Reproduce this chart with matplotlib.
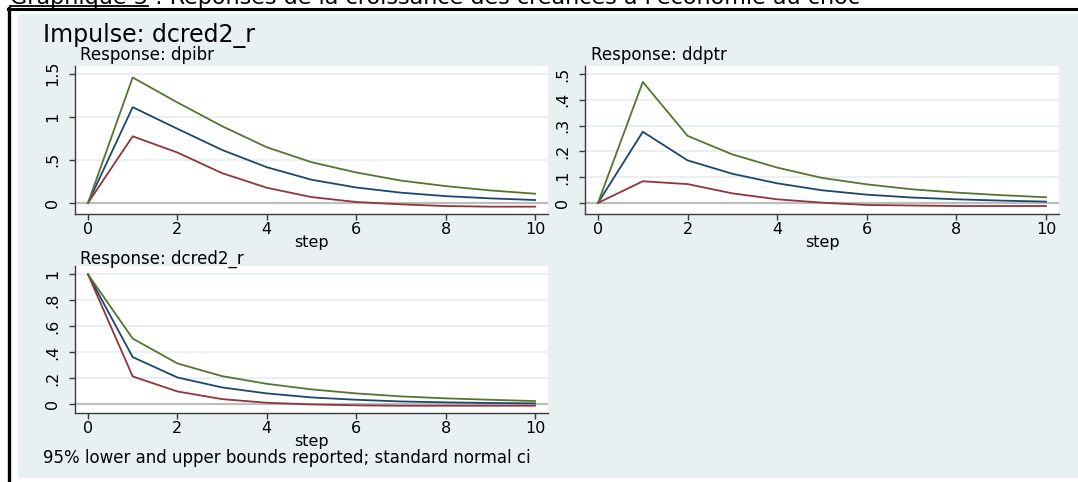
import matplotlib.pyplot as plt
from matplotlib.patches import Rectangle
from matplotlib.lines import Line2D

plt.rcParams['font.family'] = 'DejaVu Sans'

steps = list(range(11))
x_ticks = [0, 2, 4, 6, 8, 10]

# Response: dpibr
dpibr_irf = [0, 1.11, 0.86, 0.615, 0.415, 0.27, 0.18, 0.12, 0.08, 0.054, 0.035]
dpibr_upper = [0, 1.454, 1.165, 0.89, 0.646, 0.473, 0.354, 0.26, 0.196, 0.146, 0.108]
dpibr_lower = [0, 0.773, 0.585, 0.346, 0.177, 0.069, 0.012, -0.015, -0.035, -0.042, -0.042]
dpibr_yticks = [0, 0.5, 1, 1.5]
dpibr_ylabels = ["0", ".5", "1", "1.5"]

# Response: ddptr
ddptr_irf = [0, 0.276, 0.165, 0.113, 0.076, 0.049, 0.032, 0.021, 0.014, 0.009, 0.005]
ddptr_upper = [0, 0.469, 0.26, 0.188, 0.137, 0.097, 0.072, 0.053, 0.04, 0.03, 0.022]
ddptr_lower = [0, 0.084, 0.073, 0.037, 0.014, 0.001, -0.008, -0.01, -0.012, -0.012, -0.012]
ddptr_yticks = [0, 0.1, 0.2, 0.3, 0.4, 0.5]
ddptr_ylabels = ["0", ".1", ".2", ".3", ".4", ".5"]

# Response: dcred2_r
dcred_irf = [1, 0.362, 0.205, 0.128, 0.082, 0.051, 0.033, 0.02, 0.013, 0.008, 0.005]
dcred_upper = [1, 0.505, 0.313, 0.215, 0.156, 0.113, 0.082, 0.059, 0.044, 0.033, 0.023]
dcred_lower = [1, 0.213, 0.097, 0.038, 0.01, -0.003, -0.01, -0.013, -0.013, -0.013, -0.013]
dcred_yticks = [0, 0.2, 0.4, 0.6, 0.8, 1]
dcred_ylabels = ["0", ".2", ".4", ".6", ".8", "1"]

navy = '#1a476f'
maroon = '#90353b'
green = '#55752f'
axcol = '#3a3a3a'

W, H = 1078, 482
fig = plt.figure(figsize=(W / 100, H / 100), dpi=100)


def box(x0, y0, x1, y1):
    # pixel box (top-left origin) -> figure fraction
    return [x0 / W, 1 - y1 / H, (x1 - x0) / W, (y1 - y0) / H]


# graph region background + page frame
fig.patches.append(Rectangle((18 / W, 1 - 478 / H), (W - 18) / W, (478 - 14) / H,
                             transform=fig.transFigure, facecolor='#e8f0f2',
                             edgecolor='none', zorder=-5))
fig.add_artist(Line2D([8 / W, 1], [1 - 9.3 / H] * 2, color='black', lw=2.2))
fig.add_artist(Line2D([9 / W] * 2, [0, 1 - 8 / H], color='black', lw=2.4))

# caption (cut at the top of the page)
cap = fig.text(10 / W, 1 - 4 / H, "Graphique 3", fontsize=16, va='baseline', ha='left')
renderer = fig.canvas.get_renderer()
bb = cap.get_window_extent(renderer)
fig.add_artist(Line2D([bb.x0 / W, bb.x1 / W], [1 - 6 / H] * 2, color='black', lw=1.3))
fig.text(bb.x1 / W, 1 - 4 / H, " : Réponses de la croissance des créances à l'économie au choc",
         fontsize=16, va='baseline', ha='left')


def panel(rect, irf, lower, upper, yticks, ylabels, ylim):
    ax = fig.add_axes(box(*rect))
    ax.set_facecolor('white')
    ax.plot(steps, irf, color=navy, lw=1.3, zorder=3)
    ax.plot(steps, lower, color=maroon, lw=1.3, zorder=3)
    ax.plot(steps, upper, color=green, lw=1.3, zorder=3)
    ax.axhline(0, color='#bdbdbd', lw=1.6, zorder=2)
    ax.set_xlim(-0.29, 10.29)
    ax.set_ylim(*ylim)
    ax.set_xticks(x_ticks)
    ax.set_yticks(yticks, ylabels)
    ax.grid(axis='y', color='#e6eef0', lw=1.2, zorder=1)
    ax.set_axisbelow(True)
    for s in ['top', 'right']:
        ax.spines[s].set_visible(False)
    for s in ['left', 'bottom']:
        ax.spines[s].set_color(axcol)
        ax.spines[s].set_linewidth(1)
    ax.tick_params(axis='both', direction='out', length=4, width=1, color=axcol, labelsize=11.5)
    ax.tick_params(axis='x', pad=2)
    ax.tick_params(axis='y', pad=12)
    plt.setp(ax.get_yticklabels(), rotation=90, ha='center', va='center')
    ax.set_xlabel('step', fontsize=11.5, labelpad=-2)
    return ax


panel((75, 66, 548, 214), dpibr_irf, dpibr_lower, dpibr_upper,
      dpibr_yticks, dpibr_ylabels, (-0.127, 1.587))
panel((585, 66, 1059, 214), ddptr_irf, ddptr_lower, ddptr_upper,
      ddptr_yticks, ddptr_ylabels, (-0.043, 0.531))
panel((75, 266, 548, 413), dcred_irf, dcred_lower, dcred_upper,
      dcred_yticks, dcred_ylabels, (-0.069, 1.064))

fig.text(43 / W, 1 - 42.5 / H, "Impulse: dcred2_r", fontsize=17, va='baseline')
fig.text(80 / W, 1 - 60.5 / H, "Response: dpibr", fontsize=12, va='baseline')
fig.text(591 / W, 1 - 60.5 / H, "Response: ddptr", fontsize=12, va='baseline')
fig.text(80 / W, 1 - 263.5 / H, "Response: dcred2_r", fontsize=12, va='baseline')
fig.text(43 / W, 1 - 463 / H, "95% lower and upper bounds reported; standard normal ci",
         fontsize=12, va='baseline')

fig.savefig('out.png', dpi=100)
